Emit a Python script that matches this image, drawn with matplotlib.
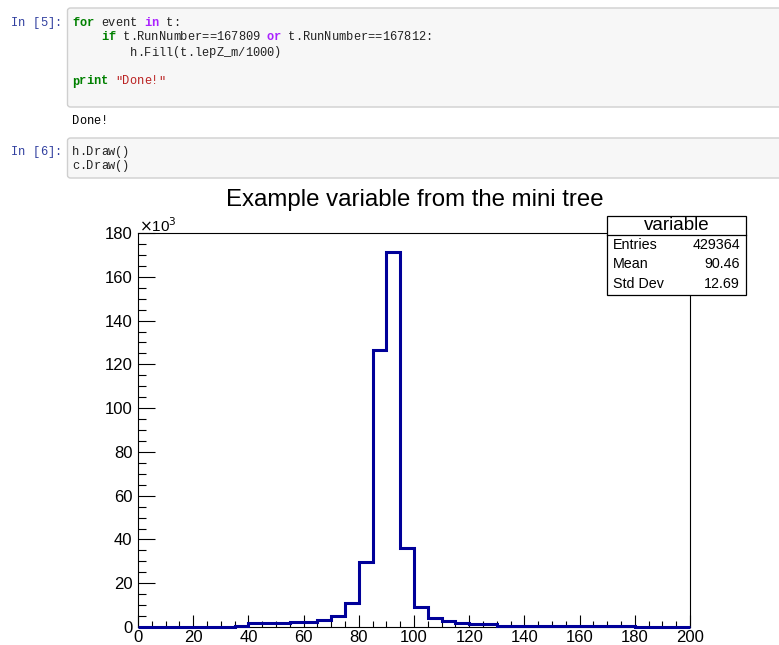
import matplotlib.pyplot as plt
import matplotlib.patches as patches

# histogram data (counts in thousands), 40 bins of width 5 from 0 to 200
bin_edges = list(range(0, 205, 5))
counts_k = [0.1, 0.1, 0.1, 0.1, 0.1, 0.1, 0.1, 0.3,
            2.0, 2.0, 2.0, 2.4, 2.4, 3.3, 5.2, 11.0,
            29.7, 126.5, 171.5, 36.0, 9.3, 3.9, 2.9, 1.6,
            1.2, 1.2, 0.6, 0.6, 0.6, 0.3, 0.3, 0.3,
            0.3, 0.3, 0.3, 0.3, 0.2, 0.2, 0.2, 0.2]
x_ticks = [0, 20, 40, 60, 80, 100, 120, 140, 160, 180, 200]
y_ticks = [0, 20, 40, 60, 80, 100, 120, 140, 160, 180]
stat_names = ["Entries", "Mean", "Std Dev"]
stat_values = ["429364", "90.46", "12.69"]

W, H = 779, 645
fig = plt.figure(figsize=(W / 100, H / 100), dpi=100)

def fx(x):
    return x / W

def fy(y):
    return 1 - y / H

mono = "Liberation Mono"
sans = "Liberation Sans"
fs_code = 8.65
cw = fs_code * 100 / 72 * 0.6  # char width in px for the code font

def code_line(x0, y, parts):
    # parts: list of (text, color, bold); one char at a time so the grid stays exact
    i = 0
    for txt, col, bold in parts:
        for ch in txt:
            if ch != " ":
                fig.text(fx(x0 + i * cw), fy(y + 4), ch, family=mono, fontsize=fs_code, color=col,
                         weight="bold" if bold else "normal", va="baseline", ha="left")
            i += 1

# notebook cells
for top, bottom in [(8, 107), (138, 178)]:
    box = patches.FancyBboxPatch((fx(67.5), fy(bottom)), fx(W + 10 - 67.5), fy(top) - fy(bottom),
                                 boxstyle="round,pad=0,rounding_size=0.004",
                                 transform=fig.transFigure, facecolor="#f7f7f7",
                                 edgecolor="#cfcfcf", linewidth=1)
    fig.patches.append(box)

prompt = "#303F9F"
green = "#008000"
purple = "#AA22FF"
black = "#222222"
code_line(11, 22, [("In [5]:", prompt, False)])
code_line(72, 22, [("for", green, True), (" event ", black, False), ("in", purple, True), (" t:", black, False)])
code_line(72, 36.5, [("    ", black, False), ("if", green, True),
                     (" t.RunNumber==167809 ", black, False), ("or", purple, True),
                     (" t.RunNumber==167812:", black, False)])
code_line(72, 51.5, [("        h.Fill(t.lepZ_m/1000)", black, False)])
code_line(72, 80.5, [("print", green, True), (" ", black, False), ('"Done!"', "#BA2121", False)])
code_line(72, 120, [("Done!", "black", False)])
code_line(11, 151, [("In [6]:", prompt, False)])
code_line(72, 151, [("h.Draw()", black, False)])
code_line(72, 165.5, [("c.Draw()", black, False)])

# histogram pad
ax = fig.add_axes([fx(138), fy(627), fx(690) - fx(138), fy(233) - fy(627)])
ax.stairs(counts_k, bin_edges, color="#000099", linewidth=2.2, baseline=0, clip_on=False, zorder=3)
ax.set_xlim(0, 200)
ax.set_ylim(0, 180)
ax.set_xticks(x_ticks)
ax.set_xticks(range(0, 201, 5), minor=True)
ax.set_yticks(y_ticks)
ax.set_yticks(range(0, 181, 5), minor=True)
ax.tick_params(axis="both", which="both", direction="in", top=False, right=False,
               labelsize=12, width=0.8, colors="black")
ax.tick_params(axis="y", which="major", length=12, pad=4)
ax.tick_params(axis="y", which="minor", length=6)
ax.tick_params(axis="x", which="major", length=8.5, pad=2)
ax.tick_params(axis="x", which="minor", length=4.3)
for lab in ax.get_xticklabels() + ax.get_yticklabels():
    lab.set_family(sans)
for sp in ax.spines.values():
    sp.set_linewidth(0.8)

fig.text(fx(139), fy(232), r"$\times$10$^3$", family=sans, fontsize=11, va="baseline", ha="left")
fig.text(fx(415), fy(200), "Example variable from the mini tree", family=sans,
         fontsize=17.3, ha="center", va="center")

# stats box
sb = patches.Rectangle((fx(607), fy(295)), fx(746) - fx(607), fy(216) - fy(295),
                       transform=fig.transFigure, facecolor="white", edgecolor="black",
                       linewidth=0.9, zorder=5)
fig.patches.append(sb)
fig.add_artist(plt.Line2D([fx(607), fx(746)], [fy(235), fy(235)], color="black",
                          linewidth=0.9, transform=fig.transFigure, zorder=6))
fig.text(fx(676.5), fy(226), "variable", family=sans, fontsize=13.5, ha="center", va="center", zorder=7)
for i, (name, val) in enumerate(zip(stat_names, stat_values)):
    yy = 245 + i * 19.5
    fig.text(fx(613), fy(yy), name, family=sans, fontsize=10.3, ha="left", va="center", zorder=7)
    fig.text(fx(740), fy(yy), val, family=sans, fontsize=10.3, ha="right", va="center", zorder=7)

plt.savefig("out.png", dpi=100)
